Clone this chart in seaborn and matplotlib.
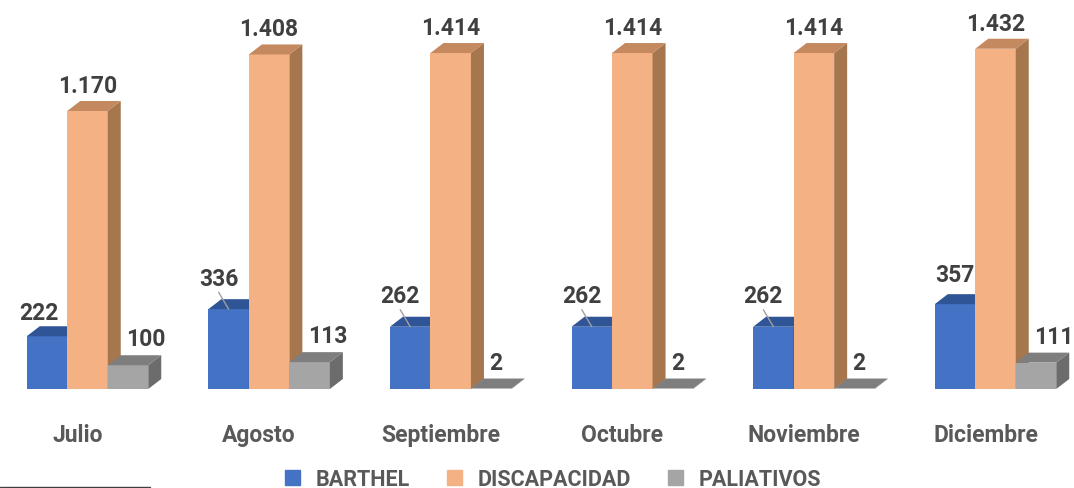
import pandas as pd
import seaborn as sns
import matplotlib.pyplot as plt
from matplotlib.patches import Polygon
from matplotlib.lines import Line2D

months = ["Julio", "Agosto", "Septiembre", "Octubre", "Noviembre", "Diciembre"]
series = ["BARTHEL", "DISCAPACIDAD", "PALIATIVOS"]
barthel = [222, 336, 262, 262, 262, 357]
discapacidad = [1170, 1408, 1414, 1414, 1414, 1432]
paliativos = [100, 113, 2, 2, 2, 111]

front = ["#4472C4", "#F4B183", "#A5A5A5"]
top_c = ["#2F5597", "#C4895F", "#7E7E7E"]
side_c = ["#2B4F8C", "#A6764F", "#6C6C6C"]

rows = []
for s, vals in zip(series, [barthel, discapacidad, paliativos]):
    for m, v in zip(months, vals):
        rows.append({"mes": m, "serie": s, "valor": v})
df = pd.DataFrame(rows)

sns.set_theme(style="white")
plt.rcParams["font.family"] = ["Roboto", "DejaVu Sans"]

W, H = 1074, 489
fig = plt.figure(figsize=(W / 100, H / 100), dpi=100)
ax = fig.add_axes([0, 99 / H, 1, 390 / H])

sns.barplot(data=df, x="mes", y="valor", hue="serie", palette=front,
            width=0.669, gap=0, saturation=1, legend=False, ax=ax,
            linewidth=0, errorbar=None)

# pixel -> data conversions
pxx = 1 / 181.6
ypx = 278 / 1170
ymax = 390 / ypx
pxy = 1 / ypx
ax.set_xlim(-87.5 * pxx, (W - 87.5) * pxx)
ax.set_ylim(0, ymax)
ax.axis("off")

dx = 13 * pxx
dy = 10 * pxy

lbl_color = "#404040"
fmt = lambda v: f"{v:,}".replace(",", ".")

blue_lift = [14, 21, 21, 21, 21, 20]
blue_shift = [-8, -10, -10, -10, -10, 0]
leader = [False, True, True, True, True, False]

for k, cont in enumerate(ax.containers):
    for i, bar in enumerate(cont.patches):
        x0 = bar.get_x()
        w = bar.get_width()
        x1 = x0 + w
        h = bar.get_height()
        zb = 2 + k
        bar.set_zorder(zb)
        bar.set_edgecolor("none")
        ax.add_patch(Polygon([(x1, 0), (x1 + dx, dy), (x1 + dx, h + dy), (x1, h)],
                             closed=True, facecolor=side_c[k], edgecolor="none",
                             zorder=zb + 0.5))
        ax.add_patch(Polygon([(x0, h), (x0 + dx, h + dy), (x1 + dx, h + dy), (x1, h)],
                             closed=True, facecolor=top_c[k], edgecolor="none",
                             zorder=zb + 0.5))
        cx = x0 + w / 2
        txt = fmt(int(h))
        if k == 0:
            tx = cx + blue_shift[i] * pxx
            ty = h + dy + blue_lift[i] * pxy
            ax.text(tx, ty, txt, ha="center", va="center", fontsize=16.5,
                    fontweight="bold", color=lbl_color, zorder=10)
            if leader[i]:
                ax.plot([tx, cx], [ty - 14 * pxy, h], color="#A0A0A0", lw=1, zorder=10)
        elif k == 1:
            ax.text(cx, h + dy + 15.5 * pxy, txt, ha="center", va="center",
                    fontsize=16.5, fontweight="bold", color=lbl_color, zorder=10)
        else:
            ax.text(cx - 2 * pxx, h + dy + 16.5 * pxy, txt, ha="left", va="center",
                    fontsize=16.5, fontweight="bold", color=lbl_color, zorder=10)

for i, m in enumerate(months):
    ax.text(i - 10 * pxx, -46 * pxy, m, ha="center", va="center", fontsize=16.5,
            fontweight="bold", color="#595959", clip_on=False)

handles = [plt.Rectangle((0, 0), 1, 1, color=c) for c in front]
leg = fig.legend(handles, series, loc="center", bbox_to_anchor=(553 / W, 1 - 480 / H),
                 ncol=3, frameon=False, handlelength=0.7, handleheight=0.7,
                 handletextpad=0.75, columnspacing=1.7,
                 prop={"size": 15.5, "weight": "bold"})
for t in leg.get_texts():
    t.set_color("#595959")

fig.add_artist(Line2D([0, 150 / W], [1.5 / H, 1.5 / H], color="#404040", lw=1))

fig.savefig("out.png", dpi=100, facecolor="white")
